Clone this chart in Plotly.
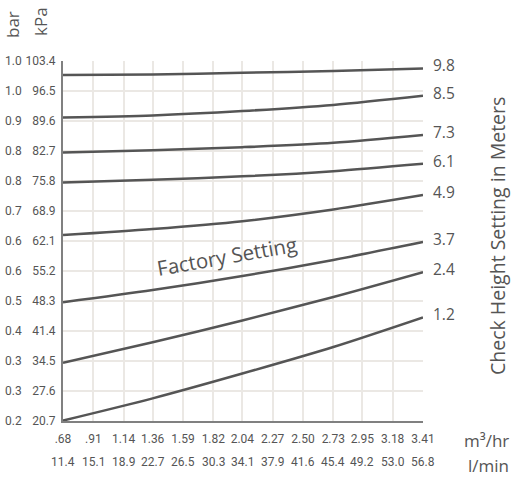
import plotly.graph_objects as go

# ---- data ----
flow_m3hr = [0.68, 0.91, 1.14, 1.36, 1.59, 1.82, 2.04, 2.27, 2.50, 2.73, 2.95, 3.18, 3.41]
flow_m3hr_text = [".68", ".91", "1.14", "1.36", "1.59", "1.82", "2.04", "2.27", "2.50", "2.73", "2.95", "3.18", "3.41"]
flow_lmin_text = ["11.4", "15.1", "18.9", "22.7", "26.5", "30.3", "34.1", "37.9", "41.6", "45.4", "49.2", "53.0", "56.8"]

press_kpa = [20.7, 27.6, 34.5, 41.4, 48.3, 55.2, 62.1, 68.9, 75.8, 82.7, 89.6, 96.5, 103.4]
press_kpa_text = ["20.7", "27.6", "34.5", "41.4", "48.3", "55.2", "62.1", "68.9", "75.8", "82.7", "89.6", "96.5", "103.4"]
press_bar_text = ["0.2", "0.3", "0.3", "0.4", "0.5", "0.6", "0.6", "0.7", "0.8", "0.8", "0.9", "1.0", "1.0"]

curve_x = [0.68, 1.36, 2.04, 2.73, 3.41]
heights = ["9.8", "8.5", "7.3", "6.1", "4.9", "3.7", "2.4", "1.2"]
curves = [
    [100.2, 100.3, 100.7, 101.1, 101.7],
    [90.4, 90.9, 91.9, 93.3, 95.4],
    [82.4, 82.9, 83.6, 84.6, 86.4],
    [75.5, 76.1, 76.9, 78.1, 79.8],
    [63.4, 64.8, 66.6, 69.3, 72.6],
    [48.0, 50.8, 54.0, 57.7, 61.8],
    [34.1, 38.8, 43.8, 49.2, 54.9],
    [20.8, 25.9, 31.6, 37.7, 44.5],
]

factory_label = "Factory Setting"
factory_pos = (1.92, 58.6)

FONT = "Open Sans"
TICKFONT = "Roboto"
TXT = "#555555"
LINE = "#555555"
GRID = "#ebe8e4"

fig = go.Figure()
for h, ys in zip(heights, curves):
    fig.add_trace(go.Scatter(x=curve_x, y=ys, mode="lines",
                             line=dict(color=LINE, width=2.5, shape="spline", smoothing=0.8),
                             hoverinfo="skip", showlegend=False))

ann = []
# right-side height labels
for h, ys in zip(heights, curves):
    ann.append(dict(x=curve_x[-1], y=ys[-1], xref="x", yref="y", text=h, showarrow=False,
                    xanchor="left", yanchor="middle", xshift=8, yshift=3,
                    font=dict(family=FONT, size=15.5, color=TXT)))
# bar column
for v, t in zip(press_kpa, press_bar_text):
    ann.append(dict(x=0, y=v, xref="paper", yref="y", text=t, showarrow=False,
                    xanchor="left", yanchor="middle", xshift=-60,
                    font=dict(family=TICKFONT, size=12, color=TXT)))
# l/min row
for v, t in zip(flow_m3hr, flow_lmin_text):
    ann.append(dict(x=v, y=0, xref="x", yref="paper", text=t, showarrow=False,
                    xanchor="center", yanchor="middle", yshift=-41,
                    font=dict(family=TICKFONT, size=12, color=TXT)))
# axis unit labels
ann += [
    dict(x=1, y=0, xref="paper", yref="paper", text="m³/hr", showarrow=False,
         xanchor="right", yanchor="middle", xshift=88, yshift=-19,
         font=dict(family=FONT, size=17, color=TXT)),
    dict(x=1, y=0, xref="paper", yref="paper", text="l/min", showarrow=False,
         xanchor="right", yanchor="middle", xshift=88, yshift=-44,
         font=dict(family=FONT, size=17, color=TXT)),
    dict(x=1, y=0.5, xref="paper", yref="paper", text="Check Height Setting in Meters",
         showarrow=False, textangle=-90, xanchor="center", yanchor="middle", xshift=74, yshift=5,
         font=dict(family=FONT, size=19.5, color=TXT)),
    dict(x=0, y=1, xref="paper", yref="paper", text="bar", showarrow=False, textangle=-90,
         xanchor="center", yanchor="middle", xshift=-51, yshift=36,
         font=dict(family=FONT, size=17, color=TXT)),
    dict(x=0, y=1, xref="paper", yref="paper", text="kPa", showarrow=False, textangle=-90,
         xanchor="center", yanchor="middle", xshift=-23, yshift=39,
         font=dict(family=FONT, size=17, color=TXT)),
    dict(x=factory_pos[0], y=factory_pos[1], xref="x", yref="y", text=factory_label,
         showarrow=False, textangle=-10, xanchor="center", yanchor="middle",
         font=dict(family=FONT, size=20.5, color=TXT)),
]

fig.update_layout(
    width=522, height=477,
    margin=dict(l=63, r=99, t=61, b=56),
    paper_bgcolor="white", plot_bgcolor="white",
    annotations=ann,
    xaxis=dict(range=[flow_m3hr[0], flow_m3hr[-1]], tickvals=flow_m3hr, ticktext=flow_m3hr_text,
               showgrid=True, gridcolor=GRID, gridwidth=1.5, zeroline=False,
               showline=True, linecolor="#808080", linewidth=2, ticks="",
               tickfont=dict(family=TICKFONT, size=12, color=TXT), ticklabelstandoff=6),
    yaxis=dict(range=[press_kpa[0], press_kpa[-1]], tickvals=press_kpa, ticktext=press_kpa_text,
               showgrid=True, gridcolor=GRID, gridwidth=1.5, zeroline=False,
               showline=True, linecolor="#808080", linewidth=2, ticks="",
               tickfont=dict(family=TICKFONT, size=12, color=TXT), ticklabelstandoff=3),
)

fig.write_html("out.html", config={"displayModeBar": False},
               post_script="document.body.style.margin='0';")
